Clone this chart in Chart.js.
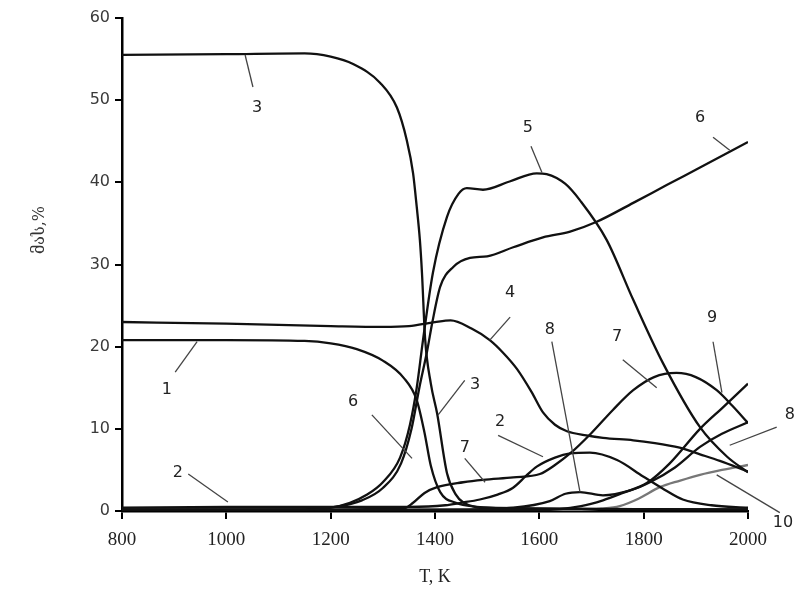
<!DOCTYPE html>
<html>
<head>
<meta charset="utf-8">
<script src="https://cdn.jsdelivr.net/npm/chart.js@4"></script>
<style>
  html, body { margin: 0; padding: 0; background: #fff; }
  #wrap { width: 796px; height: 589px; }
</style>
</head>
<body>
<div id="wrap"><canvas id="myChart" width="796" height="589"></canvas></div>
<script>
// temperature (K) and content (%), one pair per curve
const t1 = [800, 1000, 1150, 1200, 1250, 1300, 1340, 1365, 1380, 1392, 1410, 1440, 1480, 1550, 2000];
const v1 = [20.8, 20.8, 20.7, 20.4, 19.7, 18.3, 16.2, 13.5, 9.5, 5.5, 2.3, 1.0, 0.5, 0.3, 0.2];

const t2 = [800, 1000, 1200, 1350, 1420, 1450, 1486, 1520, 1549, 1575, 1595, 1630, 1659, 1697, 1749, 1799, 1840, 1875, 1930, 2000];
const v2 = [0.4, 0.5, 0.5, 0.5, 0.7, 1.0, 1.4, 2.0, 2.8, 4.3, 5.4, 6.5, 7.0, 7.1, 6.2, 4.2, 2.6, 1.4, 0.7, 0.4];

const t3 = [800, 1000, 1150, 1200, 1243, 1295, 1327, 1346, 1358, 1365, 1371, 1375, 1381, 1392, 1404, 1423, 1440, 1455, 1500, 2000];
const v3 = [55.5, 55.6, 55.7, 55.3, 54.4, 52.1, 49.1, 45.1, 41.1, 37, 33, 29, 21, 15.5, 11.9, 4.6, 2.0, 1.0, 0.4, 0.2];

const t4 = [800, 1000, 1200, 1300, 1350, 1400, 1430, 1470, 1505, 1530, 1557, 1585, 1607, 1630, 1653, 1690, 1722, 1780, 1818, 1869, 1908, 1946, 2000];
const v4 = [23.0, 22.8, 22.5, 22.4, 22.5, 23.0, 23.2, 22.2, 20.8, 19.3, 17.3, 14.5, 12.0, 10.5, 9.7, 9.2, 8.9, 8.6, 8.3, 7.7, 6.9, 6.1, 4.8];

const t5 = [800, 1150, 1200, 1237, 1270, 1300, 1333, 1352, 1365, 1377, 1396, 1423, 1445, 1461, 1492, 1543, 1595, 1614, 1650, 1678, 1729, 1780, 1837, 1908, 1960, 2000];
const v5 = [0.2, 0.2, 0.4, 1.0, 2.0, 3.5, 6.5, 10.5, 15, 20.8, 29, 35.8, 38.6, 39.3, 39.1, 40.1, 41.1, 41.0, 39.8, 37.8, 33, 25.7, 18, 10.2, 6.6, 4.7];

const t6 = [800, 1150, 1210, 1260, 1300, 1335, 1355, 1370, 1385, 1395, 1410, 1435, 1467, 1500, 1550, 1607, 1659, 1710, 1780, 1845, 1908, 2000];
const v6 = [0.2, 0.2, 0.5, 1.3, 2.8, 5.8, 10, 15, 19.5, 23, 27.3, 29.7, 30.8, 31.0, 32.1, 33.3, 34.0, 35.2, 37.5, 39.7, 41.8, 44.9];

const t7 = [800, 1340, 1358, 1380, 1404, 1454, 1492, 1550, 1601, 1630, 1659, 1700, 1741, 1780, 1820, 1863, 1900, 1940, 1970, 2000];
const v7 = [0.1, 0.3, 1.0, 2.2, 2.9, 3.5, 3.8, 4.1, 4.5, 5.6, 7.0, 9.5, 12.3, 14.7, 16.3, 16.8, 16.3, 14.7, 12.8, 10.7];

const t8 = [800, 1450, 1550, 1620, 1650, 1678, 1722, 1774, 1812, 1860, 1908, 1950, 2000];
const v8 = [0.1, 0.2, 0.4, 1.2, 2.1, 2.3, 1.9, 2.5, 3.5, 5.3, 7.8, 9.4, 10.8];

const t9 = [800, 1600, 1680, 1722, 1760, 1806, 1850, 1908, 1950, 2000];
const v9 = [0.0, 0.1, 0.6, 1.3, 2.2, 3.4, 5.8, 10.0, 12.5, 15.5];

const t10 = [800, 1650, 1720, 1754, 1790, 1831, 1870, 1908, 1950, 2000];
const v10 = [0.0, 0.1, 0.3, 0.6, 1.5, 2.9, 3.7, 4.4, 5.0, 5.6];

const curveT = [t1, t2, t3, t4, t5, t6, t7, t8, t9, t10];
const curveV = [v1, v2, v3, v4, v5, v6, v7, v8, v9, v10];
const curveColor = ['#111', '#111', '#111', '#111', '#111', '#111', '#111', '#111', '#111', '#777'];

const xTicks = [800, 1000, 1200, 1400, 1600, 1800, 2000];
const yTicks = [0, 10, 20, 30, 40, 50, 60];

// curve numbers with their leader lines (data units)
const labelText = ['3', '1', '2', '6', '3', '2', '7', '8', '7', '9', '8', '10', '4', '5', '6'];
const labelT = [1059, 886, 907, 1243, 1477, 1525, 1457, 1620, 1749, 1931, 2080, 2067, 1544, 1578, 1908];
const labelV = [49.1, 14.7, 4.7, 13.3, 15.3, 10.8, 7.7, 22.0, 21.2, 23.5, 11.7, -1.5, 26.6, 46.6, 47.9];
const lineT1 = [1036, 944, 927, 1279, 1457, 1521, 1457, 1624, 1760, 1933, 2055, 2061, 1544, 1584, 1933];
const lineV1 = [55.5, 20.6, 4.5, 11.7, 15.9, 9.2, 6.4, 20.6, 18.4, 20.6, 10.2, -0.2, 23.6, 44.4, 45.5];
const lineT2 = [1051, 902, 1003, 1356, 1406, 1607, 1496, 1678, 1825, 1950, 1965, 1940, 1505, 1605, 1965];
const lineV2 = [51.6, 16.9, 1.1, 6.4, 11.7, 6.6, 3.5, 2.3, 15.0, 14.4, 8.0, 4.4, 20.8, 41.2, 43.9];

const datasets = curveT.map(function (ts, i) {
  return {
    label: String(i + 1),
    data: ts.map(function (t, j) { return { x: t, y: curveV[i][j] }; }),
    borderColor: curveColor[i],
    borderWidth: 2.3,
    pointRadius: 0,
    fill: false,
    cubicInterpolationMode: 'monotone'
  };
});

const curveLabels = {
  id: 'curveLabels',
  afterDatasetsDraw(chart) {
    const ctx = chart.ctx;
    const x = chart.scales.x;
    const y = chart.scales.y;
    ctx.save();
    ctx.strokeStyle = '#444';
    ctx.lineWidth = 1.3;
    for (let i = 0; i < labelText.length; i++) {
      ctx.beginPath();
      ctx.moveTo(x.getPixelForValue(lineT1[i]), y.getPixelForValue(lineV1[i]));
      ctx.lineTo(x.getPixelForValue(lineT2[i]), y.getPixelForValue(lineV2[i]));
      ctx.stroke();
    }
    ctx.fillStyle = '#222';
    ctx.font = '16px "DejaVu Sans"';
    ctx.textAlign = 'center';
    ctx.textBaseline = 'middle';
    for (let i = 0; i < labelText.length; i++) {
      ctx.fillText(labelText[i], x.getPixelForValue(labelT[i]), y.getPixelForValue(labelV[i]));
    }
    // y axis title, sits a bit above the middle in the original
    ctx.translate(chart.chartArea.left - 82, chart.chartArea.top + 212);
    ctx.rotate(-Math.PI / 2);
    ctx.font = '16px "DejaVu Serif"';
    ctx.fillStyle = '#333';
    ctx.fillText('მას,%', 0, 0);
    ctx.restore();
  }
};

const ctx = document.getElementById('myChart');
new Chart(ctx, {
  type: 'line',
  data: { datasets: datasets },
  plugins: [curveLabels],
  options: {
    responsive: false,
    animation: false,
    layout: { padding: { left: 0, right: 48, top: 18, bottom: 0 } },
    plugins: {
      legend: { display: false },
      tooltip: { enabled: false }
    },
    scales: {
      x: {
        type: 'linear',
        min: 800,
        max: 2000,
        afterFit: function (scale) { scale.height = 78; },
        afterBuildTicks: function (scale) {
          scale.ticks = xTicks.map(function (v) { return { value: v }; });
        },
        border: { display: true, color: '#000', width: 2.5 },
        grid: { drawOnChartArea: false, drawTicks: true, tickLength: 8, color: '#000', lineWidth: 2 },
        ticks: {
          padding: 10,
          color: '#222',
          font: { family: '"Liberation Serif"', size: 19 },
          callback: function (v) { return String(v); }
        },
        title: {
          display: true,
          text: 'T, K',
          color: '#222',
          font: { family: '"Liberation Serif"', size: 18 },
          padding: { top: 0, bottom: 1 }
        }
      },
      y: {
        min: 0,
        max: 60,
        afterFit: function (scale) { scale.width = 122; },
        afterBuildTicks: function (scale) {
          scale.ticks = yTicks.map(function (v) { return { value: v }; });
        },
        border: { display: true, color: '#000', width: 2.5 },
        grid: { drawOnChartArea: false, drawTicks: true, tickLength: 7, color: '#000', lineWidth: 2 },
        ticks: {
          padding: 5,
          color: '#3a3a3a',
          font: { family: '"DejaVu Sans"', size: 16 },
          callback: function (v) { return String(v); }
        }
      }
    }
  }
});
</script>
</body>
</html>
